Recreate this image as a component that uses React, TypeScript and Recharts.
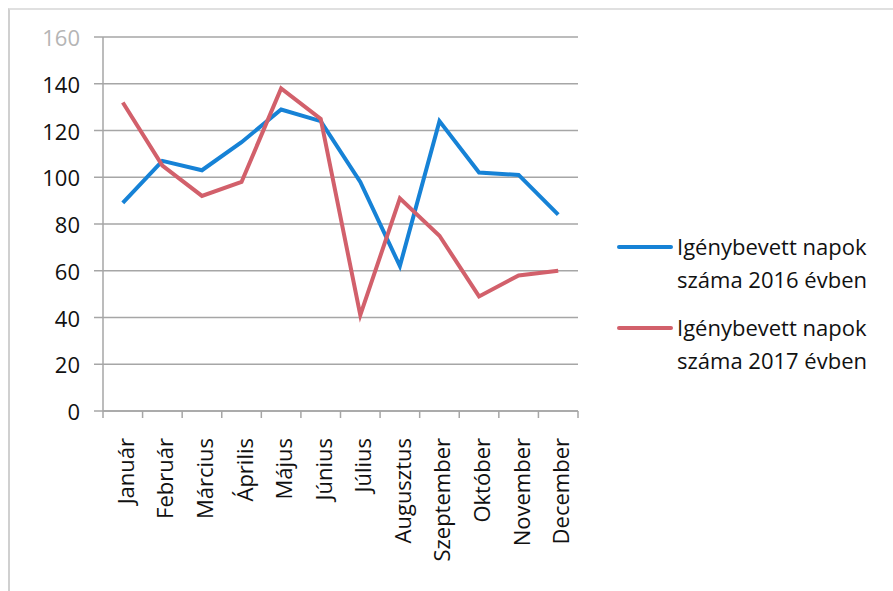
import React from 'react';
import { LineChart, Line, XAxis, YAxis, CartesianGrid } from 'recharts';

const months = ['Január', 'Február', 'Március', 'Április', 'Május', 'Június', 'Július', 'Augusztus', 'Szeptember', 'Október', 'November', 'December'];
const days2016 = [89, 107, 103, 115, 129, 124, 98, 62, 124, 102, 101, 84];
const days2017 = [132, 105, 92, 98, 138, 125, 41, 91, 75, 49, 58, 60];
const yTicks = [0, 20, 40, 60, 80, 100, 120, 140, 160];

const series = [
  { key: 'y2016', name: 'Igénybevett napok száma 2016 évben', lines: ['Igénybevett napok', 'száma 2016 évben'], color: '#1682d6' },
  { key: 'y2017', name: 'Igénybevett napok száma 2017 évben', lines: ['Igénybevett napok', 'száma 2017 évben'], color: '#d2606b' },
];

const data = months.map((m, i) => ({ month: m, y2016: days2016[i], y2017: days2017[i] }));

const FONT = '"Open Sans", sans-serif';
const PLOT_LEFT = 103;
const PLOT_RIGHT = 578;
const BAND = (PLOT_RIGHT - PLOT_LEFT) / months.length;

// month label plus the tick marks between categories (Excel style)
const MonthTick = (props: any) => {
  const { x, y, payload, index } = props;
  const top = y - 8;
  return (
    <g>
      <line x1={x - BAND / 2} y1={top} x2={x - BAND / 2} y2={top + 7} stroke="#a6a6a6" strokeWidth={1.5} />
      {index === months.length - 1 && (
        <line x1={x + BAND / 2} y1={top} x2={x + BAND / 2} y2={top + 7} stroke="#a6a6a6" strokeWidth={1.5} />
      )}
      <text
        x={x + 2}
        y={top + 27}
        transform={`rotate(-90, ${x + 2}, ${top + 27})`}
        textAnchor="end"
        dominantBaseline="central"
        fontSize={22}
        fontFamily={FONT}
        fill="#111"
      >
        {payload.value}
      </text>
    </g>
  );
};

const ValueTick = (props: any) => {
  const { x, y, payload } = props;
  return (
    <text x={x} y={y} textAnchor="end" dominantBaseline="central" fontSize={22} fontFamily={FONT}
      fill={payload.value === 160 ? '#b5b5b5' : '#111'}>
      {payload.value}
    </text>
  );
};

const LegendBox = () => (
  <div style={{ position: 'absolute', left: 617, top: 230, width: 270, fontFamily: FONT, fontSize: 22, color: '#111', lineHeight: '33px' }}>
    {series.map((s, i) => (
      <div key={s.key} style={{ display: 'flex', alignItems: 'flex-start', marginTop: i === 0 ? 0 : 15 }}>
        <div style={{ width: 56, height: 4, background: s.color, borderRadius: 2, marginTop: 15, marginRight: 4 }} />
        <div>
          {s.lines.map(l => <div key={l}>{l}</div>)}
        </div>
      </div>
    ))}
  </div>
);

export default function App() {
  return (
    <div style={{ position: 'absolute', left: 0, top: 0, width: 893, height: 591, background: '#fff' }}>
      <div style={{ position: 'absolute', left: 8, top: 8, width: 885, height: 583, borderLeft: '2px solid #d0d0d0', borderTop: '2px solid #e0e0e0' }} />
      <div style={{ position: 'absolute', left: 0, top: 0 }}>
        <LineChart width={893} height={591} data={data} margin={{ top: 37, right: 315, bottom: 10, left: 43 }}>
          <CartesianGrid vertical={false} stroke="#a6a6a6" strokeWidth={1.5} />
          <XAxis
            dataKey="month"
            interval={0}
            height={170}
            padding={{ left: BAND / 2, right: BAND / 2 }}
            tickLine={false}
            axisLine={{ stroke: '#a6a6a6', strokeWidth: 1.5 }}
            tick={<MonthTick />}
          />
          <YAxis
            domain={[0, 160]}
            ticks={yTicks}
            width={60}
            tickSize={9}
            tickMargin={14}
            tickLine={{ stroke: '#a6a6a6', strokeWidth: 1.5 }}
            axisLine={{ stroke: '#a6a6a6', strokeWidth: 1.5 }}
            tick={<ValueTick />}
          />
          {series.map(s => (
            <Line
              key={s.key}
              type="linear"
              dataKey={s.key}
              name={s.name}
              stroke={s.color}
              strokeWidth={4}
              dot={false}
              activeDot={false}
              isAnimationActive={false}
            />
          ))}
        </LineChart>
      </div>
      <LegendBox />
    </div>
  );
}
